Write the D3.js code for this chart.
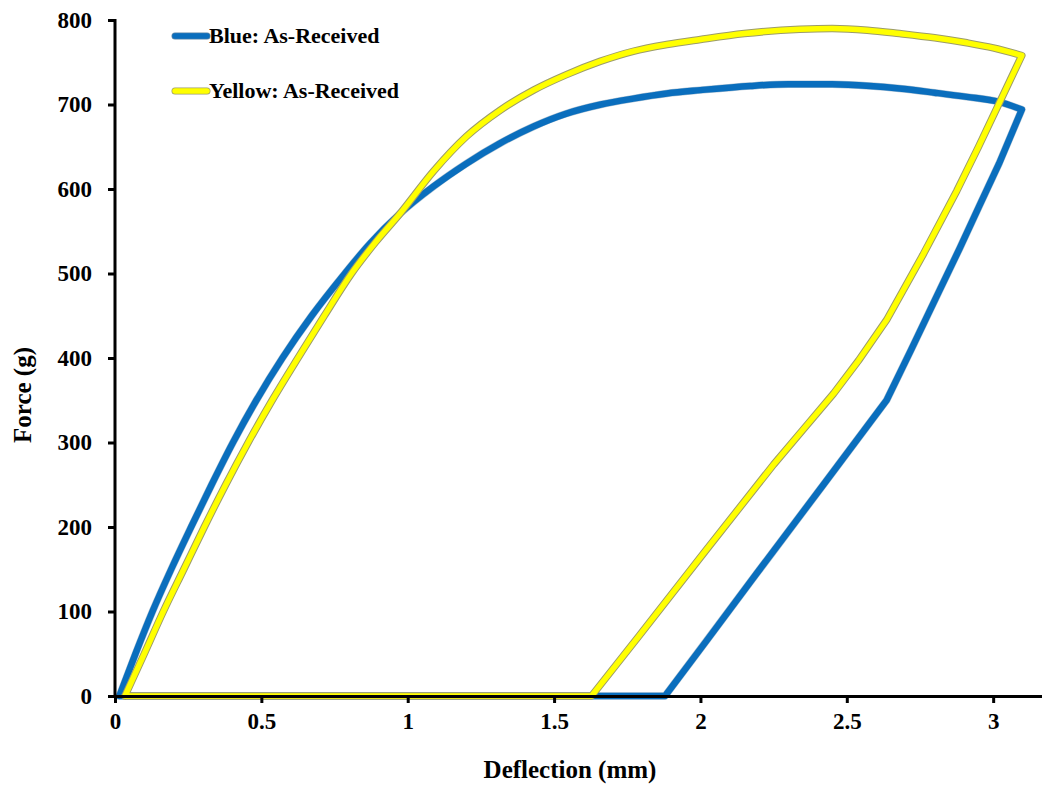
<!DOCTYPE html>
<html>
<head>
<meta charset="utf-8">
<script src="https://cdn.jsdelivr.net/npm/d3@7"></script>
<style>
  html, body { margin: 0; padding: 0; background: #fff; }
  svg { display: block; }
  text { font-family: "Liberation Serif", "Times New Roman", serif; font-weight: bold; fill: #000; }
</style>
</head>
<body>
<svg id="chart" width="1042" height="785"></svg>
<script>
// ---- Data ----
const blueX = [0.015,0.07,0.128,0.192,0.26,0.33,0.403,0.483,0.572,0.672,0.785,0.87,0.974,1.088,1.2,1.315,1.43,1.54,1.66,1.77,1.885,2.0,2.17,2.3,2.45,2.58,2.68,2.8,2.91,3.02,3.098,
               3.02,2.95,2.886,2.80,2.72,2.636,2.42,2.19,2.02,1.879,1.5,1.0,0.5,0.015];
const blueY = [0,50,100,150,200,250,300,350,400,450,500,535,571,603,630,654,674,689,700,707,713,717,722,724,724,722,719,714,709,703,694,
               630,578,530,468,410,350,250,144,65,0,0,0,0,0];
const yellowX = [0.034,0.10,0.165,0.235,0.305,0.378,0.455,0.537,0.625,0.715,0.808,0.89,0.974,1.088,1.2,1.315,1.43,1.54,1.657,1.77,1.885,2.0,2.15,2.34,2.45,2.57,2.68,2.8,2.91,3.0,3.098,
                 3.02,2.95,2.876,2.76,2.636,2.54,2.455,2.35,2.25,2.02,1.79,1.628,1.2,0.8,0.4,0.034];
const yellowY = [0,50,100,150,200,250,300,350,400,450,500,537,571,621,662,693,717,735,751,763,771,777,784,789,790,788,784,779,773,767,758,
                 701,650,598,522,445,397,358,315,274,173,71,0,0,0,0,0];
const xTicks = [0,0.5,1,1.5,2,2.5,3];
const yTicks = [0,100,200,300,400,500,600,700,800];
const seriesNames = ["Blue: As-Received", "Yellow: As-Received"];

// ---- Layout ----
const svg = d3.select("#chart");
const mLeft = 115, mRight = 1040, mTop = 20, mBottom = 696;
const x = d3.scaleLinear().domain([0, 3.16]).range([mLeft, mRight]);
const y = d3.scaleLinear().domain([0, 800]).range([mBottom, mTop]);

const blueColor = "#0A6EBD";
const blueEdge = "#5f87a8";
const yellowColor = "#FFFF00";
const yellowEdge = "#9C9C6A";

// Build a loop path: loading curve (smooth), unloading (linear pieces), flat return (linear)
const smooth = d3.line().x(d => x(d[0])).y(d => y(d[1])).curve(d3.curveMonotoneX);
const straight = d3.line().x(d => x(d[0])).y(d => y(d[1]));
function loopPath(xs, ys) {
  const pts = xs.map((v, i) => [v, ys[i]]);
  const iMax = d3.maxIndex(xs);
  const iZero = pts.findIndex((p, i) => i > iMax && p[1] === 0);
  const loading = pts.slice(0, iMax + 1);
  const unloading = pts.slice(iMax, iZero + 1);
  const ret = pts.slice(iZero);
  return smooth(loading) + straight(unloading).replace(/^M/, "L") + straight(ret).replace(/^M/, "L");
}

const blueD = loopPath(blueX, blueY);
const yellowD = loopPath(yellowX, yellowY);

// Blue series
svg.append("path").attr("d", blueD)
  .attr("fill", "none").attr("stroke", blueEdge).attr("stroke-width", 7.5)
  .attr("stroke-linejoin", "round").attr("stroke-linecap", "round").attr("opacity", 0.5);
svg.append("path").attr("d", blueD)
  .attr("fill", "none").attr("stroke", blueColor).attr("stroke-width", 6.5)
  .attr("stroke-linejoin", "round").attr("stroke-linecap", "round");

// Yellow series
svg.append("path").attr("d", yellowD)
  .attr("fill", "none").attr("stroke", yellowEdge).attr("stroke-width", 7.5)
  .attr("stroke-linejoin", "round").attr("stroke-linecap", "round");
svg.append("path").attr("d", yellowD)
  .attr("fill", "none").attr("stroke", yellowColor).attr("stroke-width", 5.5)
  .attr("stroke-linejoin", "round").attr("stroke-linecap", "round");

// ---- Axes ----
const xAxis = svg.append("g").attr("transform", `translate(0,${mBottom})`)
  .call(d3.axisBottom(x).tickValues(xTicks).tickSize(7).tickSizeOuter(0).tickPadding(10)
        .tickFormat(d => d3.format("")(d)));
const yAxis = svg.append("g").attr("transform", `translate(${mLeft},0)`)
  .call(d3.axisLeft(y).tickValues(yTicks).tickSize(7).tickSizeOuter(0).tickPadding(16));

[xAxis, yAxis].forEach(g => {
  g.select(".domain").attr("stroke", "#000").attr("stroke-width", 3);
  g.selectAll(".tick line").attr("stroke", "#000").attr("stroke-width", 3);
  g.selectAll(".tick text").attr("font-size", 23).attr("font-family", "Liberation Serif, Times New Roman, serif")
    .attr("font-weight", "bold").attr("fill", "#000");
});
xAxis.select(".domain").attr("d", `M${mLeft - 1.5},0.5H${mRight + 2}`);
yAxis.select(".domain").attr("d", `M0,${mTop - 1}V${mBottom + 1.5}`);

// Axis titles
svg.append("text").attr("x", 570).attr("y", 778)
  .attr("text-anchor", "middle").attr("font-size", 25).text("Deflection (mm)");
svg.append("text").attr("transform", `translate(31,395) rotate(-90)`)
  .attr("text-anchor", "middle").attr("font-size", 25).text("Force (g)");

// ---- Legend ----
const legendY = [36, 91];
const legendStroke = [[blueColor, blueEdge], [yellowColor, yellowEdge]];
seriesNames.forEach((name, i) => {
  const g = svg.append("g");
  g.append("line").attr("x1", 175).attr("x2", 207).attr("y1", legendY[i]).attr("y2", legendY[i])
    .attr("stroke", legendStroke[i][1]).attr("stroke-width", 7).attr("stroke-linecap", "round");
  g.append("line").attr("x1", 175).attr("x2", 207).attr("y1", legendY[i]).attr("y2", legendY[i])
    .attr("stroke", legendStroke[i][0]).attr("stroke-width", 5.5).attr("stroke-linecap", "round");
  g.append("text").attr("x", 209).attr("y", legendY[i] + 7).attr("font-size", 22).text(name);
});
</script>
</body>
</html>
